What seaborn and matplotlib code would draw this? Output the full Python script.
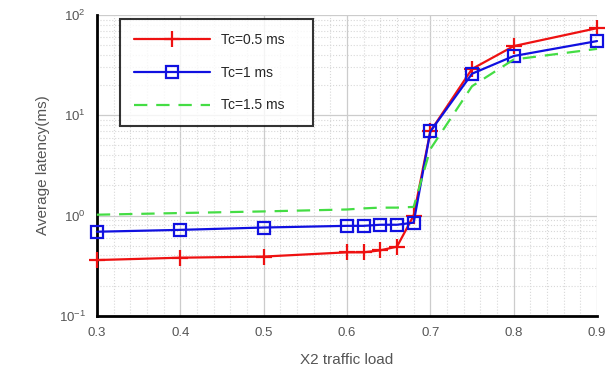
import pandas as pd
import numpy as np
import matplotlib
matplotlib.use("Agg")
import matplotlib.pyplot as plt
import seaborn as sns

# X2 traffic load points
load = [0.3, 0.4, 0.5, 0.6, 0.62, 0.64, 0.66, 0.68, 0.7, 0.75, 0.8, 0.9]

# average latency (ms)
tc_05 = [0.36, 0.38, 0.39, 0.43, 0.43, 0.45, 0.49, 1.0, 6.9, 29, 49, 74]
tc_1 = [0.69, 0.72, 0.76, 0.79, 0.79, 0.81, 0.81, 0.85, 6.9, 26, 39, 55]
tc_15 = [1.02, 1.06, 1.1, 1.15, 1.18, 1.2, 1.2, 1.22, 4.6, 19.5, 36, 46]

labels = ["Tc=0.5 ms", "Tc=1 ms", "Tc=1.5 ms"]

df = pd.DataFrame({"load": load * 3,
                   "latency": tc_05 + tc_1 + tc_15,
                   "Tc": [labels[0]] * len(load) + [labels[1]] * len(load) + [labels[2]] * len(load)})

sns.set_theme(style="white")
plt.rcParams['font.family'] = ['Liberation Sans', 'DejaVu Sans']

fig = plt.figure(figsize=(6.13, 3.76), dpi=100)
ax = fig.add_axes([0.158, 0.16, 0.816, 0.80])

styles = {
    labels[0]: dict(color="#ee1111", marker="+", markersize=12, mew=1.6, mec="#ee1111", linestyle="-"),
    labels[1]: dict(color="#1010e0", marker="s", markersize=8, mew=1.6, mec="#1010e0", mfc="none", linestyle="-"),
    labels[2]: dict(color="#44dd44", marker=None, linestyle=(0, (6, 4))),
}
for lab in labels:
    sns.lineplot(data=df[df["Tc"] == lab], x="load", y="latency", ax=ax,
                 label=lab, linewidth=1.6, clip_on=False, zorder=3, **styles[lab])

ax.set_yscale("log")
ax.set_xlim(0.3, 0.9)
ax.set_ylim(0.1, 100)
ax.set_xticks([0.3, 0.4, 0.5, 0.6, 0.7, 0.8, 0.9])

ax.grid(True, which="major", color="#cccccc", linewidth=0.9)
ax.grid(True, which="minor", color="#d8d8d8", linestyle=":", linewidth=0.8)
ax.minorticks_on()
ax.xaxis.set_minor_locator(matplotlib.ticker.MultipleLocator(0.02))

for s in ["top", "right"]:
    ax.spines[s].set_visible(False)
for s in ["left", "bottom"]:
    ax.spines[s].set_color("black")
    ax.spines[s].set_linewidth(2)

ax.tick_params(axis="both", which="major", direction="in", length=4, width=1.5,
               labelsize=9.5, colors="black", pad=8)
ax.tick_params(axis="both", which="minor", direction="in", length=2, width=1)
for t in ax.get_xticklabels() + ax.get_yticklabels():
    t.set_color("#555555")

ax.set_xlabel("X2 traffic load", fontsize=11, color="#555555", labelpad=10)
ax.set_ylabel("Average latency(ms)", fontsize=11, color="#555555", labelpad=6)

leg = ax.legend(loc="upper left", bbox_to_anchor=(0.032, 0.64, 0.414, 0.37),
                mode="expand", fontsize=10, handlelength=5.5, labelspacing=1.35,
                borderpad=1.0, fancybox=False, frameon=True)
leg.get_frame().set_edgecolor("black")
leg.get_frame().set_linewidth(1.5)
leg.set_zorder(5)

fig.savefig("out.png", dpi=100)
